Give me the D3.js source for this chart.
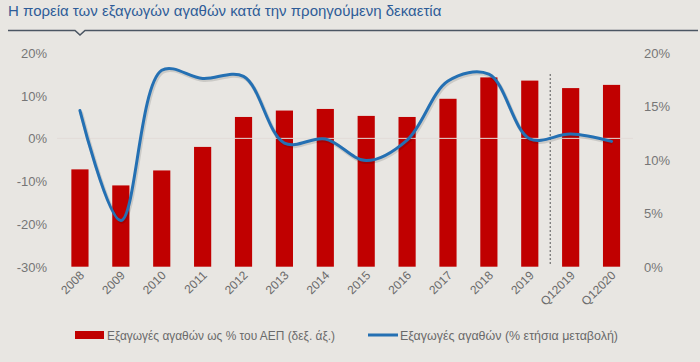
<!DOCTYPE html>
<html>
<head>
<meta charset="utf-8">
<script src="https://cdn.jsdelivr.net/npm/d3@7"></script>
<style>
  html, body { margin: 0; padding: 0; background: #e8e6e2; }
  svg { display: block; }
</style>
</head>
<body>
<svg id="chart" width="700" height="362"></svg>
<script>
// categories + series
const categories = ["2008", "2009", "2010", "2011", "2012", "2013", "2014", "2015", "2016", "2017", "2018", "2019", "Q12019", "Q12020"];
const exportsShareGdp = [9.1, 7.6, 9.0, 11.2, 14.0, 14.6, 14.75, 14.1, 14.0, 15.7, 17.7, 17.4, 16.7, 17.0]; // right axis
const exportsGrowth = [6.5, -19.2, 15.9, 14.0, 14.5, -1.1, -0.15, -5.2, -0.4, 13.4, 15.0, -0.1, 1.0, -0.7]; // left axis
const leftTicks = [-30, -20, -10, 0, 10, 20];
const rightTicks = [0, 5, 10, 15, 20];

const titleText = "Η πορεία των εξαγωγών αγαθών κατά την προηγούμενη δεκαετία";
const legendBars = "Εξαγωγές αγαθών ως % του ΑΕΠ (δεξ. άξ.)";
const legendLine = "Εξαγωγές αγαθών (% ετήσια μεταβολή)";

const svg = d3.select("#chart");
const font = "'Liberation Sans', Arial, sans-serif";

// scales
const x = d3.scaleBand().domain(categories).range([59.5, 632]).paddingInner(0.58).paddingOuter(0.29);
const yLeft = d3.scaleLinear().domain([-30, 20]).range([266.7, 52.8]);
const yRight = d3.scaleLinear().domain([0, 20]).range([266.7, 52.8]);

// title + underline with little chevron
svg.append("text")
    .attr("x", 8).attr("y", 16)
    .attr("font-family", font).attr("font-size", 15)
    .attr("fill", "#2e5c98")
    .text(titleText);

svg.append("path")
    .attr("d", "M8,30.5 H75 L80,35 L85,30.5 H698")
    .attr("fill", "none")
    .attr("stroke", "#4b5663")
    .attr("stroke-width", 1.6);

// bars
svg.append("g").selectAll("rect")
    .data(categories)
    .enter()
    .append("rect")
    .attr("x", d => x(d))
    .attr("width", x.bandwidth())
    .attr("y", (d, i) => yRight(exportsShareGdp[i]))
    .attr("height", (d, i) => yRight(0) - yRight(exportsShareGdp[i]))
    .attr("fill", "#c00000");

// zero line (drawn over the bars, like the original)
svg.append("line")
    .attr("x1", 57).attr("x2", 633)
    .attr("y1", yLeft(0)).attr("y2", yLeft(0))
    .attr("stroke", "#e2dcd8")
    .attr("stroke-width", 1);

// dashed separator between annual and quarterly data
const sepX = (x("2019") + x("Q12019") + x.bandwidth()) / 2;
svg.append("line")
    .attr("x1", sepX).attr("x2", sepX)
    .attr("y1", 74).attr("y2", 266)
    .attr("stroke", "#555")
    .attr("stroke-width", 1)
    .attr("stroke-dasharray", "2,2");

// growth line
const line = d3.line()
    .x((d, i) => x(categories[i]) + x.bandwidth() / 2)
    .y(d => yLeft(d))
    .curve(d3.curveCatmullRom.alpha(0.5));

// faint shadow under the line
svg.append("path")
    .datum(exportsGrowth)
    .attr("d", line)
    .attr("fill", "none")
    .attr("stroke", "rgba(0,0,0,0.12)")
    .attr("stroke-width", 4)
    .attr("transform", "translate(1,1.5)");

svg.append("path")
    .datum(exportsGrowth)
    .attr("d", line)
    .attr("fill", "none")
    .attr("stroke", "#2470b3")
    .attr("stroke-width", 3)
    .attr("stroke-linecap", "round");

// left axis labels
svg.append("g").selectAll("text")
    .data(leftTicks)
    .enter()
    .append("text")
    .attr("x", 47)
    .attr("y", d => yLeft(d) + 5)
    .attr("text-anchor", "end")
    .attr("font-family", font).attr("font-size", 13)
    .attr("fill", "#767676")
    .text(d => d + "%");

// right axis labels
svg.append("g").selectAll("text")
    .data(rightTicks)
    .enter()
    .append("text")
    .attr("x", 644)
    .attr("y", d => yRight(d) + 5)
    .attr("text-anchor", "start")
    .attr("font-family", font).attr("font-size", 13)
    .attr("fill", "#767676")
    .text(d => d + "%");

// category labels, rotated
svg.append("g").selectAll("text")
    .data(categories)
    .enter()
    .append("text")
    .attr("transform", d => `translate(${x(d) + x.bandwidth() / 2 + 5},${276}) rotate(-45)`)
    .attr("text-anchor", "end")
    .attr("font-family", font).attr("font-size", 12)
    .attr("fill", "#6a6a6a")
    .text(d => d);

// legend
const legend = svg.append("g");
legend.append("rect")
    .attr("x", 75).attr("y", 331)
    .attr("width", 29).attr("height", 8)
    .attr("fill", "#c00000");
legend.append("text")
    .attr("x", 107).attr("y", 339.5)
    .attr("font-family", font).attr("font-size", 13)
    .attr("textLength", 228).attr("lengthAdjust", "spacingAndGlyphs")
    .attr("fill", "#6a6a6a")
    .text(legendBars);
legend.append("line")
    .attr("x1", 368).attr("x2", 398)
    .attr("y1", 335).attr("y2", 335)
    .attr("stroke", "#2470b3").attr("stroke-width", 3);
legend.append("text")
    .attr("x", 400).attr("y", 339.5)
    .attr("font-family", font).attr("font-size", 13)
    .attr("textLength", 218).attr("lengthAdjust", "spacingAndGlyphs")
    .attr("fill", "#6a6a6a")
    .text(legendLine);
</script>
</body>
</html>
